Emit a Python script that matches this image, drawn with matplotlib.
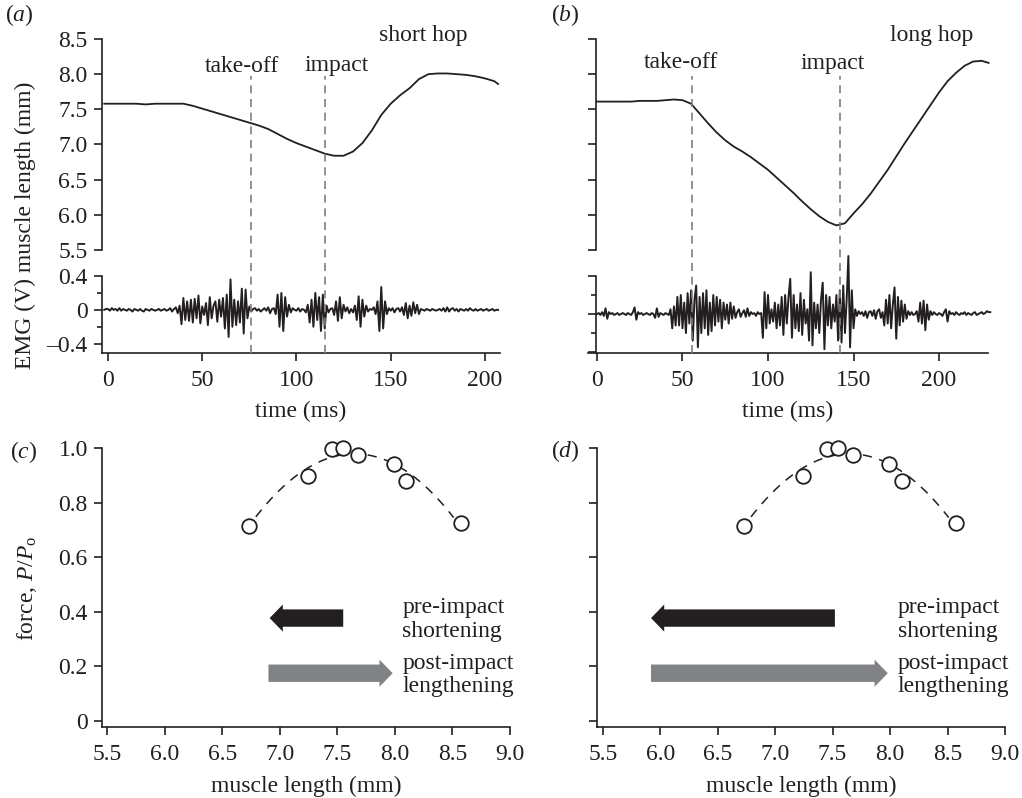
import numpy as np
import matplotlib
matplotlib.use('Agg')
import matplotlib.pyplot as plt
from matplotlib.patches import FancyArrowPatch, ArrowStyle
from matplotlib.lines import Line2D
from matplotlib.transforms import blended_transform_factory

plt.rcParams['font.family'] = ['Liberation Serif', 'DejaVu Serif']
plt.rcParams['mathtext.fontset'] = 'custom'
plt.rcParams['mathtext.rm'] = 'Liberation Serif'
plt.rcParams['mathtext.it'] = 'Liberation Serif:italic'

# ---------------- data ----------------
# muscle length traces (mm) vs time (ms)
len_a_t = [-2, 5, 10, 15, 20, 25, 30, 35, 40, 45, 50, 55, 60, 65, 70, 75, 80, 85, 90, 95,
           100, 105, 110, 115, 120, 125, 130, 135, 140, 145, 150, 155, 160, 165, 170, 175,
           180, 185, 190, 195, 200, 205, 207]
len_a = [7.58, 7.58, 7.58, 7.58, 7.57, 7.58, 7.58, 7.58, 7.58, 7.55, 7.51, 7.47, 7.43, 7.39,
         7.35, 7.31, 7.27, 7.22, 7.15, 7.08, 7.02, 6.97, 6.92, 6.87, 6.84, 6.84, 6.90, 7.02,
         7.20, 7.42, 7.58, 7.70, 7.80, 7.93, 8.00, 8.01, 8.01, 8.00, 7.99, 7.97, 7.94, 7.90, 7.86]

len_b_t = [0, 5, 10, 15, 20, 25, 30, 35, 40, 45, 50, 55, 60, 65, 70, 75, 80, 85, 90, 95,
           100, 105, 110, 115, 120, 125, 130, 135, 140, 145, 150, 155, 160, 165, 170, 175,
           180, 185, 190, 195, 200, 205, 210, 215, 220, 225, 229]
len_b = [7.61, 7.61, 7.61, 7.61, 7.61, 7.62, 7.62, 7.62, 7.63, 7.64, 7.63, 7.58, 7.44, 7.30,
         7.17, 7.06, 6.97, 6.90, 6.82, 6.73, 6.64, 6.53, 6.42, 6.31, 6.19, 6.08, 5.98, 5.90,
         5.85, 5.88, 6.02, 6.15, 6.30, 6.47, 6.64, 6.83, 7.02, 7.20, 7.38, 7.56, 7.74, 7.90,
         8.02, 8.12, 8.18, 8.19, 8.16]

# EMG traces (V), one sample per ms
emg_a_start = -2
emg_a = [0.0, 0.01,
         0.01, -0.01, 0.02, 0.0, 0.01, -0.01, 0.02, -0.01, 0.01, 0.0,
         -0.01, 0.01, 0.0, -0.02, 0.01, 0.0, -0.01, 0.01, -0.01, -0.02,
         0.01, 0.0, -0.01, 0.01, 0.0, -0.01, 0.0, 0.01, -0.01, 0.0,
         0.01, -0.01, 0.0, 0.02, -0.02, 0.01, 0.03, -0.04, 0.05, -0.17,
         0.14, -0.12, 0.10, -0.13, 0.12, -0.15, 0.13, -0.10, 0.17, -0.16,
         0.04, -0.06, 0.08, -0.18, 0.15, -0.10, 0.05, 0.10, -0.14, 0.12,
         -0.08, 0.14, -0.22, 0.18, -0.32, 0.36, -0.20, 0.12, -0.18, 0.10,
         -0.15, 0.25, -0.28, 0.24, -0.10, 0.04, -0.02, 0.01, 0.02, -0.01,
         0.01, -0.02, 0.0, 0.02, -0.01, 0.03, -0.04, 0.01, 0.02, -0.05,
         0.18, -0.20, 0.20, -0.25, 0.15, -0.08, 0.06, -0.03, 0.02, 0.0,
         -0.01, 0.02, -0.02, 0.01, 0.0, -0.03, 0.06, -0.15, 0.12, -0.20,
         0.20, -0.12, 0.15, -0.25, 0.18, -0.22, 0.05, -0.03, 0.01, 0.02,
         -0.06, 0.10, -0.13, 0.15, -0.10, 0.06, -0.02, 0.03, -0.04, 0.01,
         -0.03, 0.05, -0.12, 0.16, -0.20, 0.12, -0.08, 0.05, -0.02, 0.01,
         0.0, 0.03, -0.05, 0.10, -0.25, 0.27, -0.22, 0.10, -0.05, 0.02,
         -0.01, 0.02, -0.03, 0.01, 0.02, -0.02, 0.03, -0.06, 0.08, -0.10,
         0.05, -0.07, 0.09, -0.04, 0.06, -0.05, 0.01, 0.0, -0.01, 0.01,
         0.0, -0.01, 0.01, 0.0, -0.01, 0.0, 0.01, -0.01, 0.02, -0.02,
         0.03, -0.02, 0.01, 0.02, -0.01, 0.01, -0.02, 0.01, 0.0, -0.01,
         0.01, -0.01, 0.02, 0.0, -0.01, 0.01, -0.01, 0.0, 0.01, -0.01,
         0.0, 0.01, -0.01, 0.0, 0.01, -0.01, 0.0, 0.0]

emg_b_start = 0
emg_b = [0.0, 0.01, -0.01, 0.02, -0.02, 0.06, -0.05, 0.02, 0.0, 0.01,
         -0.01, 0.0, 0.01, -0.01, 0.0, 0.01, 0.0, -0.01, 0.01, 0.0,
         -0.01, 0.02, 0.07, -0.06, 0.02, 0.0, 0.01, -0.01, 0.0, 0.01,
         0.0, -0.01, 0.01, 0.0, -0.04, 0.06, -0.03, 0.01, 0.0, -0.01,
         0.01, 0.0, -0.01, 0.05, -0.15, 0.08, -0.12, 0.18, -0.12, 0.20,
         -0.15, 0.12, -0.20, 0.22, -0.10, 0.25, -0.28, 0.15, 0.30, -0.35,
         0.18, -0.20, 0.22, -0.15, 0.25, -0.22, 0.12, -0.18, 0.20, -0.12,
         0.18, -0.08, 0.15, -0.15, 0.12, -0.06, 0.10, -0.10, 0.12, -0.05,
         0.08, -0.04, 0.02, 0.05, -0.03, 0.01, 0.04, -0.03, 0.06, -0.02,
         0.02, 0.0, 0.01, -0.02, 0.02, 0.0, 0.01, -0.25, 0.23, -0.15,
         0.20, -0.10, 0.05, -0.08, 0.12, -0.15, 0.10, -0.12, 0.18, -0.22,
         0.20, -0.10, 0.18, 0.37, -0.25, 0.20, -0.15, 0.10, -0.18, 0.22,
         -0.22, 0.15, -0.10, 0.05, -0.28, 0.44, -0.33, 0.12, -0.15, 0.10,
         -0.20, 0.15, 0.33, -0.37, 0.20, -0.12, 0.18, -0.15, 0.10, -0.08,
         0.20, -0.28, 0.25, -0.30, 0.30, -0.20, 0.15, 0.61, -0.35, 0.25,
         -0.15, 0.05, -0.02, 0.03, 0.0, 0.02, -0.02, 0.03, -0.04, 0.02,
         0.03, -0.02, 0.04, -0.05, 0.03, 0.05, -0.04, 0.02, -0.12, 0.15,
         -0.10, 0.20, -0.15, 0.10, 0.28, -0.26, 0.18, -0.12, 0.14, -0.08,
         0.10, -0.05, 0.03, -0.01, 0.02, -0.01, 0.0, 0.03, -0.08, 0.12,
         -0.10, 0.14, -0.17, 0.10, -0.06, 0.03, -0.01, 0.02, 0.0, -0.01,
         0.01, 0.0, -0.02, 0.02, 0.05, -0.08, 0.03, 0.0, 0.01, -0.01,
         0.02, 0.0, -0.01, 0.01, 0.0, 0.02, -0.01, 0.01, 0.0, -0.01,
         0.01, 0.02, -0.01, 0.0, 0.01, 0.02, 0.0, 0.01, 0.03, 0.02,
         0.02]

# event times (ms)
takeoff_a, impact_a = 75.7, 115.1
takeoff_b, impact_b = 55.4, 142.3

# force-length relation
fl_length = [6.73, 7.24, 7.45, 7.55, 7.68, 7.99, 8.10, 8.57]
fl_force = [0.713, 0.899, 0.998, 1.0, 0.973, 0.943, 0.878, 0.725]
fit_range = [6.79, 8.51]

# operating ranges (mm): [start, end]
pre_c = [7.55, 6.91]
post_c = [6.90, 7.98]
pre_d = [7.52, 5.92]
post_d = [5.92, 7.98]

time_ticks = [0, 50, 100, 150, 200]
len_ticks = [5.5, 6.0, 6.5, 7.0, 7.5, 8.0, 8.5]
emg_major = [-0.4, 0, 0.4]
emg_major_labels = ['\u20130.4', '0', '0.4']
emg_minor = [-0.2, 0.2]
force_ticks = [0, 0.2, 0.4, 0.6, 0.8, 1.0]
force_labels = ['0', '0.2', '0.4', '0.6', '0.8', '1.0']
ml_ticks = [5.5, 6.0, 6.5, 7.0, 7.5, 8.0, 8.5, 9.0]
ml_labels = ['5.5', '6.0', '6.5', '7.0', '7.5', '8.0', '8.5', '9.0']

# ---------------- figure ----------------
INK = '#231f20'
GREY_ARROW = '#808285'
GREY_DASH = '#7f7f7f'
FS = 17
W, H = 1022, 798
fig = plt.figure(figsize=(W / 100, H / 100), dpi=100)


def px_axes(l, t, r, b):
    return fig.add_axes([l / W, 1 - b / H, (r - l) / W, (b - t) / H])


def ftext(x, y, s, **kw):
    kw.setdefault('ha', 'center')
    kw.setdefault('va', 'center')
    fig.text(x / W, 1 - y / H, s, fontsize=FS, color=INK, **kw)


def style(ax):
    for s in ['top', 'right']:
        ax.spines[s].set_visible(False)
    for s in ['left', 'bottom']:
        ax.spines[s].set_linewidth(1.2)
        ax.spines[s].set_color(INK)
    ax.tick_params(which='both', direction='out', width=1.2, color=INK,
                   labelsize=FS, labelcolor=INK, pad=4)
    ax.tick_params(which='major', length=6)
    ax.tick_params(which='minor', length=3.5)
    ax.patch.set_alpha(0)


def top_panel(left, right, xlim, spine_x, len_t, len_v, emg_t, emg_v, emg_ylim,
              events, labels):
    axL = px_axes(left, 39, right, 250)
    axE = px_axes(left, 276, right, 353)
    for ax in (axL, axE):
        style(ax)
        ax.set_xlim(*xlim)
        if spine_x is not None:
            ax.spines['left'].set_position(('data', spine_x))
    axL.spines['bottom'].set_visible(False)
    axL.set_xticks([])
    axL.set_ylim(5.5, 8.5)
    axL.set_yticks(len_ticks)
    axL.plot(len_t, len_v, color=INK, lw=1.3, clip_on=False)

    axE.set_ylim(*emg_ylim)
    axE.set_yticks(emg_major)
    axE.set_yticks(emg_minor, minor=True)
    axE.set_xticks(time_ticks)
    axE.tick_params(axis='x', pad=6)
    axE.plot(emg_t, emg_v, color=INK, lw=1.4, clip_on=False)
    axE.set_xlabel('time (ms)', fontsize=FS, color=INK, labelpad=7)

    tr = blended_transform_factory(axL.transData, fig.transFigure)
    for ev in events:
        fig.add_artist(Line2D([ev, ev], [1 - 353 / H, 1 - 76 / H], transform=tr,
                              color=GREY_DASH, lw=1.2, dashes=(4.8, 3.4)))
    if labels:
        axL.set_yticklabels([f'{v:.1f}' for v in len_ticks])
        axE.set_yticklabels(emg_major_labels)
    else:
        axL.set_yticklabels([])
        axE.set_yticklabels([])
    return axL, axE


top_panel(101.5, 500, (-3.45, 208.0), None, len_a_t, len_a,
          np.arange(len(emg_a)) + emg_a_start, emg_a, (-0.51, 0.4),
          [takeoff_a, impact_a], True)
top_panel(588, 988, (-5.26, 228.65), -0.6, len_b_t, len_b,
          np.arange(len(emg_b)) + emg_b_start, emg_b, (-0.41, 0.4),
          [takeoff_b, impact_b], False)

ftext(19, 15, r'($\mathit{a}$)')
ftext(242, 66, 'take-off')
ftext(337, 66, 'impact')
ftext(423, 36, 'short hop')
ftext(565, 15, r'($\mathit{b}$)')
ftext(681, 63, 'take-off')
ftext(833, 63, 'impact')
ftext(932, 36, 'long hop')
ftext(25, 225, 'EMG (V) muscle length (mm)', rotation=90)


def bottom_panel(left, right, pre, post, labels):
    ax = px_axes(left, 448, right, 727)
    style(ax)
    ax.set_xlim(5.45, 9.0)
    ax.set_ylim(-0.022, 1.0)
    ax.set_xticks(ml_ticks)
    ax.set_xticklabels(ml_labels)
    ax.tick_params(axis='x', pad=6)
    ax.set_yticks(force_ticks)
    ax.set_yticklabels(force_labels if labels else [])
    ax.set_xlabel('muscle length (mm)', fontsize=FS, color=INK, labelpad=8)

    coef = np.polyfit(fl_length, fl_force, 2)
    xf = np.linspace(fit_range[0], fit_range[1], 100)
    ax.plot(xf, np.polyval(coef, xf), color=INK, lw=1.1, dashes=(6, 5), clip_on=False)
    ax.plot(fl_length, fl_force, 'o', ms=10.5, mfc='white', mec=INK, mew=1.3,
            clip_on=False, zorder=5)

    style_arrow = ArrowStyle.Simple(head_length=9.5, head_width=19.5, tail_width=12.5)
    for (x0, x1), yv, col in ((pre, 0.377, INK), (post, 0.175, GREY_ARROW)):
        ax.add_patch(FancyArrowPatch((x0, yv), (x1, yv), arrowstyle=style_arrow,
                                     mutation_scale=1, shrinkA=0, shrinkB=0,
                                     facecolor=col, edgecolor='none', lw=0))
    ax.text(8.065, 0.372, 'pre-impact\nshortening', fontsize=FS, color=INK,
            ha='left', va='center', linespacing=1.15)
    ax.text(8.065, 0.169, 'post-impact\nlengthening', fontsize=FS, color=INK,
            ha='left', va='center', linespacing=1.15)
    return ax


bottom_panel(101.7, 510, pre_c, post_c, True)
bottom_panel(597, 1005, pre_d, post_d, False)
ftext(24, 452, r'($\mathit{c}$)')
ftext(565, 451, r'($\mathit{d}$)')
ftext(27, 588, r'force, $P$/$P_{\mathrm{o}}$', rotation=90)

fig.savefig('out.png', dpi=100)
